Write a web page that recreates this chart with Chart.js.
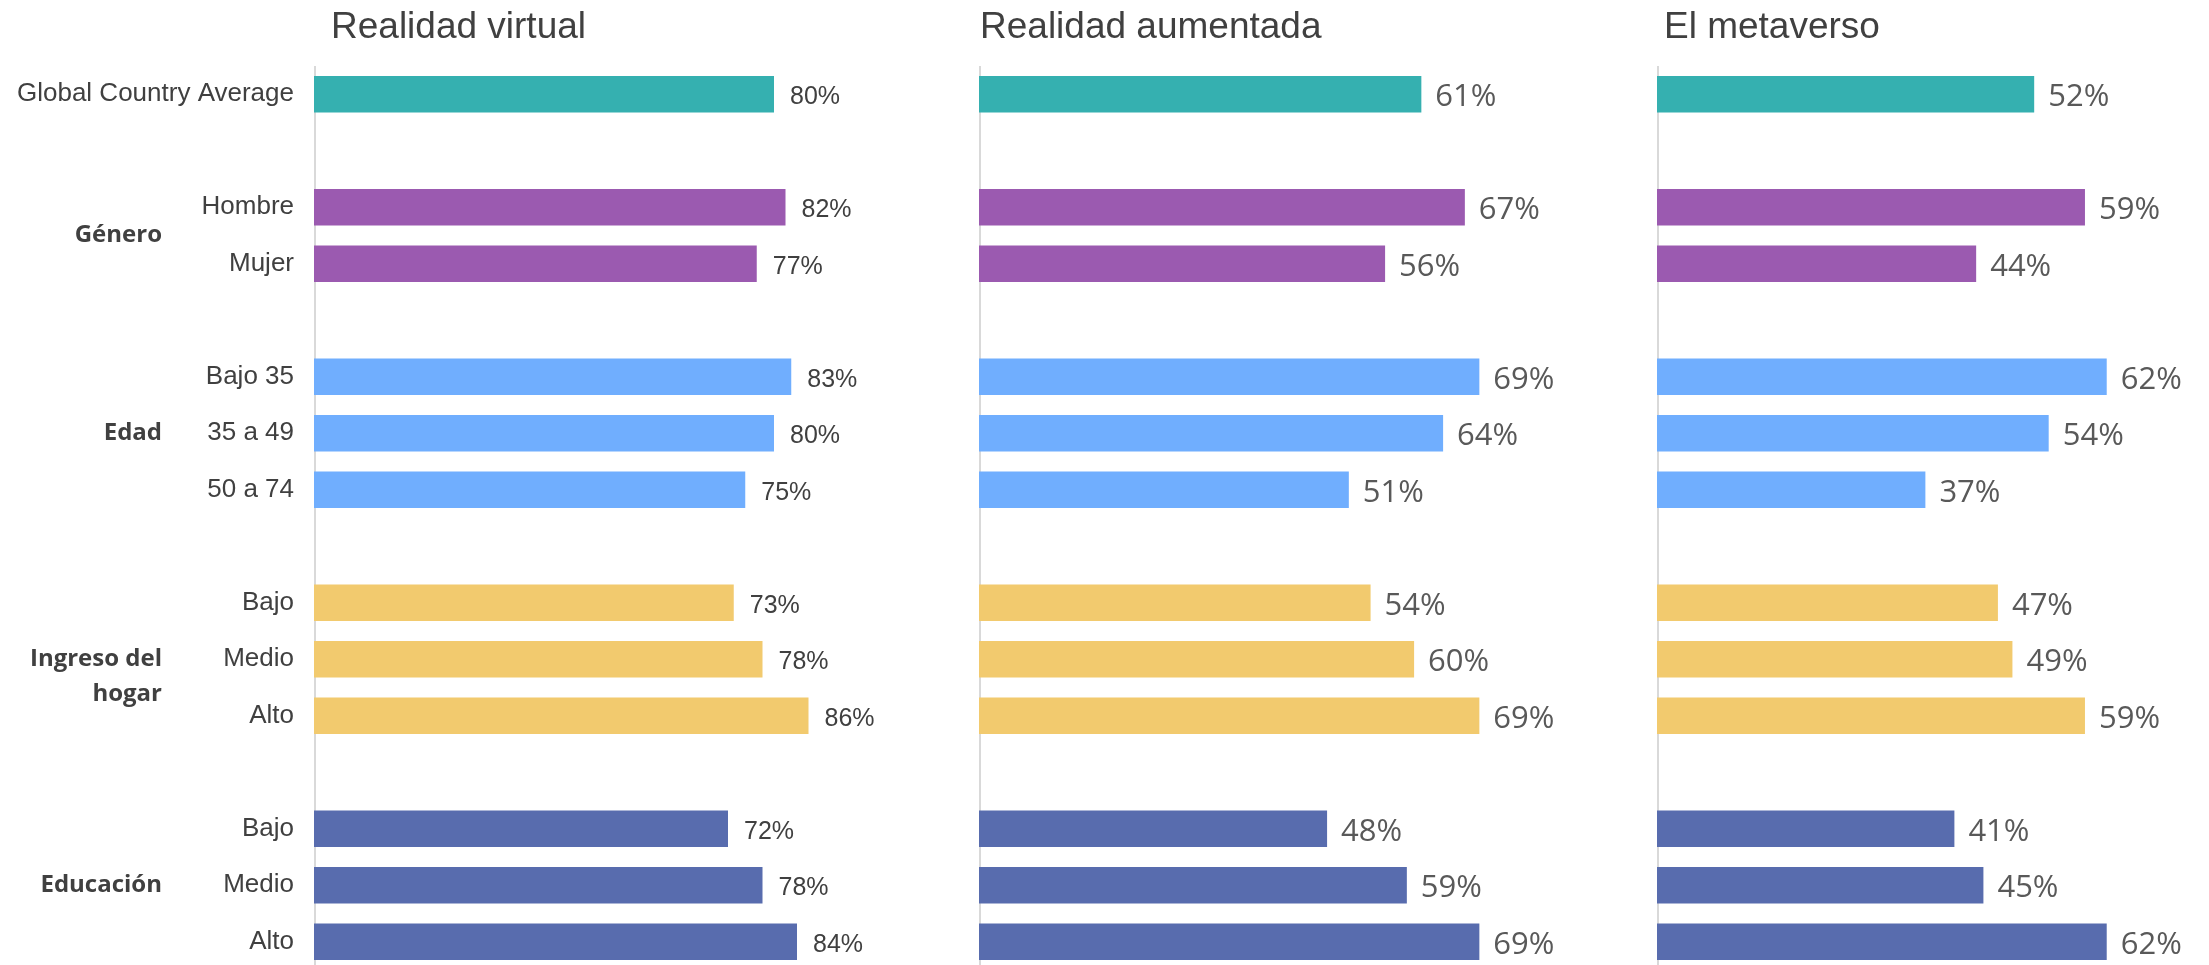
<!DOCTYPE html>
<html>
<head>
<meta charset="utf-8">
<script src="https://cdn.jsdelivr.net/npm/chart.js@4/dist/chart.umd.min.js"></script>
<style>
  html, body { margin: 0; padding: 0; background: #fff; overflow: hidden; width: 2209px; height: 965px; }
  canvas { position: absolute; top: 0; }
  #c1 { left: 0; }
  #c2 { left: 979px; }
  #c3 { left: 1657px; }
</style>
</head>
<body>
<canvas id="c1" width="889" height="970"></canvas>
<canvas id="c2" width="657" height="970"></canvas>
<canvas id="c3" width="552" height="970"></canvas>
<script>
// ---- dane ----
const categories = [
    "Global Country Average", "",
    "Hombre", "Mujer", "",
    "Bajo 35", "35 a 49", "50 a 74", "",
    "Bajo", "Medio", "Alto", "",
    "Bajo", "Medio", "Alto"
];
const realidadVirtual   = [80, null, 82, 77, null, 83, 80, 75, null, 73, 78, 86, null, 72, 78, 84];
const realidadAumentada = [61, null, 67, 56, null, 69, 64, 51, null, 54, 60, 69, null, 48, 59, 69];
const metaverso         = [52, null, 59, 44, null, 62, 54, 37, null, 47, 49, 59, null, 41, 45, 62];

const groupLabels = [["Género"], ["Edad"], ["Ingreso del", "hogar"], ["Educación"]];
const groupRows   = [[2, 3], [5, 7], [9, 11], [13, 15]];

// kolory wierszy
const TEAL = "#35b0b0", PURPLE = "#9b5ab0", LBLUE = "#70aefe", YELLOW = "#f2ca6e", DBLUE = "#586cae";
const rowColors = [
    TEAL, null,
    PURPLE, PURPLE, null,
    LBLUE, LBLUE, LBLUE, null,
    YELLOW, YELLOW, YELLOW, null,
    DBLUE, DBLUE, DBLUE
];

/* ---- oś, tytuł, etykiety wartości ---- */
const panelPlugin = {
    id: "panel",
    beforeDatasetsDraw(chart, args, o) {
        const { ctx, chartArea } = chart;
        ctx.save();
        ctx.strokeStyle = "#d9d9d9";
        ctx.lineWidth = 2;
        ctx.beginPath();
        ctx.moveTo(chartArea.left + 1, chartArea.top);
        ctx.lineTo(chartArea.left + 1, chartArea.bottom);
        ctx.stroke();

        ctx.fillStyle = "#404040";
        ctx.font = '37px "Liberation Sans", Arial, sans-serif';
        ctx.textBaseline = "alphabetic";
        ctx.textAlign = "left";
        ctx.fillText(o.title, chartArea.left + o.titleDx, 38);
        ctx.restore();
    },
    afterDatasetsDraw(chart, args, o) {
        const { ctx } = chart;
        const ds = chart.data.datasets[0].data;
        ctx.save();
        ctx.fillStyle = o.labelColor;
        ctx.font = o.labelFont;
        ctx.textBaseline = "middle";
        ctx.textAlign = "left";
        chart.getDatasetMeta(0).data.forEach((bar, i) => {
            if (ds[i] == null) return;
            ctx.fillText(ds[i] + "%", bar.x + o.gap, bar.y + 3);
        });
        ctx.restore();
    }
};

/* ---- etykiety grup (tylko pierwszy panel) ---- */
const groupPlugin = {
    id: "groups",
    afterDraw(chart) {
        const { ctx } = chart;
        const y = chart.scales.y;
        ctx.save();
        ctx.fillStyle = "#404040";
        ctx.font = 'bold 24px "Open Sans", sans-serif';
        ctx.textAlign = "right";
        ctx.textBaseline = "middle";
        groupLabels.forEach((lines, g) => {
            const [a, b] = groupRows[g];
            const cy = (y.getPixelForValue(a) + y.getPixelForValue(b)) / 2;
            lines.forEach((t, k) => ctx.fillText(t, 162, cy + k * 35));
        });
        ctx.restore();
    }
};

function makeChart(id, values, max, title, titleDx, showLabels, labelFont, labelColor, gap) {
    const plugins = [panelPlugin];
    if (showLabels) plugins.push(groupPlugin);

    return new Chart(document.getElementById(id), {
        type: "bar",
        data: {
            labels: categories,
            datasets: [{
                data: values,
                backgroundColor: rowColors,
                borderWidth: 0,
                barPercentage: 0.65,
                categoryPercentage: 1
            }]
        },
        plugins,
        options: {
            indexAxis: "y",
            responsive: false,
            animation: false,
            devicePixelRatio: 1,
            layout: { padding: { top: 66, left: 0, right: 0, bottom: 0 } },
            scales: {
                x: { display: false, min: 0, max },
                y: {
                    display: showLabels,
                    grid: { display: false, drawTicks: false },
                    border: { display: false },
                    ticks: {
                        color: "#404040",
                        padding: 20,
                        font: { family: '"Liberation Sans", Arial, sans-serif', size: 26 }
                    },
                    afterFit: s => {
                        if (!showLabels) return;
                        s.width = 314;
                        s.paddingTop = 0;
                        s.paddingBottom = 0;
                    }
                }
            },
            plugins: {
                legend: { display: false },
                tooltip: { enabled: false },
                panel: { title, titleDx, labelFont, labelColor, gap }
            }
        }
    });
}

makeChart("c1", realidadVirtual, 100, "Realidad virtual", 17, true,
    '25px "Liberation Sans", Arial, sans-serif', "#404040", 16);
makeChart("c2", realidadAumentada, 90.6, "Realidad aumentada", 1, false,
    '31px "Open Sans", sans-serif', "#595959", 14);
makeChart("c3", metaverso, 76.1, "El metaverso", 7, false,
    '31px "Open Sans", sans-serif', "#595959", 14);
</script>
</body>
</html>
